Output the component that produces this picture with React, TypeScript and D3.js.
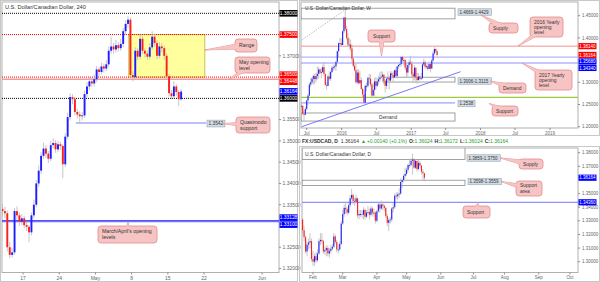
import React, { useEffect } from 'react';
import * as d3 from 'd3';

const FONT = '"Liberation Sans", Arial, sans-serif';

// ---------------- 4H panel data ----------------
const h4FirstOpen = 1.334;
const h4Close = [1.3335, 1.333, 1.325, 1.3232, 1.3238, 1.3335, 1.3325, 1.331, 1.3318, 1.3302, 1.3298, 1.3285, 1.3325, 1.335, 1.34, 1.343, 1.3465, 1.3482, 1.347, 1.3458, 1.349, 1.3495, 1.348, 1.3492, 1.3488, 1.3445, 1.351, 1.3556, 1.3603, 1.3598, 1.3568, 1.3562, 1.3558, 1.356, 1.361, 1.3628, 1.364, 1.3635, 1.3645, 1.3668, 1.3662, 1.3675, 1.367, 1.368, 1.3712, 1.3722, 1.3715, 1.3725, 1.3718, 1.3728, 1.3758, 1.3775, 1.3785, 1.3655, 1.365, 1.3712, 1.3698, 1.374, 1.3712, 1.3705, 1.3698, 1.372, 1.3745, 1.373, 1.37, 1.3722, 1.3718, 1.37, 1.3652, 1.3612, 1.3605, 1.3628, 1.3615, 1.3598, 1.3616];
const h4High = [1.3352, 1.3345, 1.3336, 1.3262, 1.3248, 1.3342, 1.3346, 1.3332, 1.3328, 1.3324, 1.331, 1.3302, 1.3332, 1.3362, 1.3408, 1.3442, 1.3474, 1.3496, 1.349, 1.3476, 1.35, 1.3506, 1.3502, 1.35, 1.3498, 1.3492, 1.3518, 1.3566, 1.3612, 1.361, 1.3604, 1.3575, 1.357, 1.3568, 1.3618, 1.3638, 1.365, 1.3648, 1.3656, 1.3676, 1.3674, 1.3684, 1.3682, 1.369, 1.3722, 1.3745, 1.373, 1.3738, 1.3732, 1.374, 1.3766, 1.3784, 1.3793, 1.379, 1.3664, 1.372, 1.3718, 1.375, 1.3746, 1.3718, 1.3712, 1.373, 1.3758, 1.3752, 1.3736, 1.3732, 1.373, 1.3724, 1.3706, 1.3658, 1.362, 1.364, 1.3634, 1.362, 1.3622];
const h4Low = [1.3322, 1.3318, 1.324, 1.3224, 1.3226, 1.3232, 1.3315, 1.33, 1.3302, 1.3294, 1.3288, 1.3262, 1.3278, 1.3318, 1.3344, 1.3392, 1.3422, 1.3458, 1.346, 1.3448, 1.3452, 1.3482, 1.3472, 1.3474, 1.3478, 1.3412, 1.3438, 1.3504, 1.3548, 1.3586, 1.356, 1.3552, 1.3542, 1.3548, 1.3554, 1.3602, 1.362, 1.3626, 1.3628, 1.3638, 1.3652, 1.3656, 1.366, 1.3664, 1.3674, 1.3705, 1.3705, 1.3708, 1.371, 1.3712, 1.372, 1.375, 1.3766, 1.3648, 1.364, 1.3646, 1.369, 1.3692, 1.3704, 1.3696, 1.369, 1.3692, 1.3714, 1.3722, 1.3692, 1.3694, 1.3708, 1.369, 1.3644, 1.3604, 1.3598, 1.36, 1.3606, 1.3582, 1.3594];
const h4CandlesPerDay = 3;
const h4TickDays = [3, 8, 13, 18, 23, 28, 36];
const h4TickLabels = ['17', '24', 'May', '8', '15', '22', 'Jun'];
const h4PriceTicks = [1.37, 1.355, 1.35, 1.345, 1.34, 1.335, 1.325, 1.32];
const h4TagValues = [1.38, 1.375, 1.365, 1.36448, 1.36164, 1.36, 1.33128, 1.331];
const h4TagKinds = ['black', 'red', 'red', 'red', 'blue', 'black', 'blue', 'blue'];
const h4RangeDays = [17.6, 28.1];
const h4RangePrices = [1.365, 1.375];
const h4QmLevel = 1.3542;
const h4QmDays = [10.3, 28.3];
const h4MarAprLevels = [1.33128, 1.331];
const h4MayOpen = [1.365, 1.36448];
const h4BlackDotted = [1.38, 1.36];
const h4RedDotted = [1.375, 1.365];

// ---------------- Weekly panel data ----------------
const wFirstOpen = 1.24;
const wClose = [1.246, 1.247, 1.229, 1.227, 1.24, 1.259, 1.27, 1.295, 1.3, 1.308, 1.314, 1.307, 1.314, 1.319, 1.329, 1.322, 1.323, 1.334, 1.319, 1.294, 1.292, 1.313, 1.308, 1.323, 1.333, 1.334, 1.336, 1.346, 1.37, 1.388, 1.388, 1.384, 1.415, 1.446, 1.42, 1.4, 1.385, 1.385, 1.376, 1.353, 1.337, 1.327, 1.3, 1.322, 1.298, 1.305, 1.285, 1.273, 1.254, 1.292, 1.292, 1.31, 1.308, 1.295, 1.27, 1.283, 1.302, 1.292, 1.302, 1.307, 1.311, 1.313, 1.317, 1.303, 1.292, 1.308, 1.31, 1.304, 1.32, 1.316, 1.311, 1.327, 1.314, 1.336, 1.339, 1.341, 1.357, 1.35, 1.35, 1.333, 1.322, 1.339, 1.345, 1.342, 1.318, 1.313, 1.333, 1.311, 1.305, 1.313, 1.308, 1.309, 1.34, 1.345, 1.335, 1.336, 1.33, 1.341, 1.331, 1.349, 1.365, 1.375, 1.37, 1.36164];
const wHigh = [1.25, 1.256, 1.248, 1.237, 1.245, 1.261, 1.274, 1.3, 1.31, 1.312, 1.318, 1.319, 1.322, 1.335, 1.335, 1.33, 1.333, 1.34, 1.346, 1.318, 1.3, 1.318, 1.325, 1.326, 1.337, 1.34, 1.34, 1.348, 1.371, 1.39, 1.4, 1.399, 1.417, 1.447, 1.469, 1.427, 1.41, 1.399, 1.396, 1.386, 1.357, 1.347, 1.342, 1.33, 1.329, 1.326, 1.311, 1.288, 1.283, 1.295, 1.3, 1.313, 1.319, 1.318, 1.298, 1.299, 1.31, 1.312, 1.31, 1.315, 1.323, 1.325, 1.324, 1.318, 1.306, 1.31, 1.325, 1.314, 1.325, 1.325, 1.324, 1.329, 1.333, 1.337, 1.341, 1.346, 1.359, 1.36, 1.356, 1.352, 1.345, 1.34, 1.351, 1.36, 1.348, 1.323, 1.339, 1.333, 1.321, 1.321, 1.315, 1.321, 1.344, 1.3535, 1.349, 1.34, 1.341, 1.347, 1.345, 1.353, 1.37, 1.3793, 1.376, 1.372];
const wLow = [1.233, 1.235, 1.227, 1.213, 1.226, 1.236, 1.248, 1.27, 1.289, 1.295, 1.295, 1.296, 1.3, 1.306, 1.308, 1.318, 1.309, 1.322, 1.314, 1.293, 1.283, 1.291, 1.305, 1.303, 1.321, 1.326, 1.328, 1.326, 1.344, 1.356, 1.385, 1.38, 1.385, 1.41, 1.415, 1.395, 1.38, 1.374, 1.37, 1.345, 1.333, 1.325, 1.297, 1.296, 1.294, 1.297, 1.283, 1.266, 1.256, 1.253, 1.28, 1.288, 1.296, 1.29, 1.266, 1.271, 1.268, 1.283, 1.289, 1.295, 1.3, 1.307, 1.301, 1.295, 1.277, 1.285, 1.302, 1.284, 1.3, 1.308, 1.301, 1.31, 1.31, 1.308, 1.33, 1.334, 1.336, 1.344, 1.338, 1.327, 1.312, 1.313, 1.333, 1.34, 1.312, 1.301, 1.305, 1.3, 1.297, 1.304, 1.304, 1.306, 1.309, 1.336, 1.329, 1.331, 1.326, 1.33, 1.322, 1.33, 1.347, 1.362, 1.366, 1.358];
const wFirstWeek = '2015-05-25';
const wTickDates = ['2015-07-01', '2016-01-01', '2016-07-01', '2017-01-01', '2017-07-01', '2018-01-01', '2018-07-01', '2019-01-01'];
const wTickLabels = ['Jul', '2016', 'Jul', '2017', 'Jul', '2018', 'Jul', '2019'];
const wPriceTicks = [1.45, 1.4, 1.3, 1.25, 1.2];
const wTagValues = [1.3814, 1.36164, 1.3568, 1.3434];
const wTagKinds = ['red', 'red', 'blue', 'blue'];
const wSupplyZone = [1.4669, 1.4429];
const wDemandZone = [1.3006, 1.3115];
const wDemandZone2 = [1.2127, 1.2309];
const wSupport = 1.2538;
const wGreenLevel = 1.266;
const wYearOpen2016 = 1.3814;
const wYearOpen2017 = 1.3434;
const wBlueLevel = 1.3568;
const wTrendDates = ['2015-06-05', '2017-09-18'];
const wTrendPrices = [1.2, 1.3239];
const wDotDates = ['2015-06-05', '2016-01-18'];
const wDotPrices = [1.3953, 1.4628];

// ---------------- Daily panel data ----------------
const dFirstOpen = 1.334;
const dClose = [1.331, 1.323, 1.318, 1.3075, 1.3125, 1.314, 1.315, 1.302, 1.3, 1.304, 1.301, 1.306, 1.315, 1.316, 1.315, 1.3075, 1.3085, 1.31, 1.306, 1.308, 1.3095, 1.311, 1.3185, 1.3145, 1.309, 1.309, 1.313, 1.328, 1.335, 1.3395, 1.3385, 1.336, 1.3415, 1.3465, 1.349, 1.3445, 1.344, 1.3465, 1.334, 1.335, 1.335, 1.3345, 1.338, 1.333, 1.336, 1.3365, 1.3345, 1.339, 1.336, 1.336, 1.33, 1.337, 1.342, 1.339, 1.342, 1.341, 1.3395, 1.3335, 1.3285, 1.3305, 1.331, 1.339, 1.34, 1.3485, 1.348, 1.3495, 1.35, 1.3585, 1.36, 1.363, 1.3645, 1.3675, 1.371, 1.371, 1.374, 1.375, 1.369, 1.374, 1.368, 1.3725, 1.3705, 1.366, 1.365, 1.36164];
const dHigh = [1.338, 1.332, 1.326, 1.319, 1.315, 1.317, 1.321, 1.317, 1.308, 1.306, 1.307, 1.309, 1.317, 1.321, 1.321, 1.316, 1.311, 1.312, 1.312, 1.31, 1.312, 1.313, 1.321, 1.32, 1.316, 1.313, 1.315, 1.33, 1.338, 1.342, 1.344, 1.34, 1.343, 1.349, 1.3535, 1.35, 1.347, 1.349, 1.347, 1.338, 1.338, 1.338, 1.34, 1.339, 1.338, 1.341, 1.339, 1.341, 1.34, 1.339, 1.337, 1.338, 1.344, 1.343, 1.345, 1.344, 1.342, 1.34, 1.335, 1.332, 1.333, 1.34, 1.343, 1.35, 1.351, 1.351, 1.354, 1.361, 1.361, 1.364, 1.369, 1.369, 1.372, 1.375, 1.376, 1.3793, 1.376, 1.375, 1.374, 1.375, 1.374, 1.371, 1.368, 1.365];
const dLow = [1.329, 1.32, 1.315, 1.306, 1.304, 1.309, 1.31, 1.3, 1.297, 1.297, 1.299, 1.3, 1.305, 1.312, 1.313, 1.306, 1.305, 1.304, 1.304, 1.303, 1.306, 1.308, 1.31, 1.313, 1.307, 1.306, 1.308, 1.312, 1.327, 1.333, 1.335, 1.334, 1.335, 1.34, 1.345, 1.342, 1.341, 1.343, 1.332, 1.331, 1.333, 1.332, 1.331, 1.331, 1.332, 1.334, 1.331, 1.333, 1.334, 1.333, 1.328, 1.329, 1.336, 1.336, 1.338, 1.338, 1.337, 1.332, 1.326, 1.3225, 1.328, 1.329, 1.336, 1.339, 1.346, 1.345, 1.347, 1.349, 1.354, 1.358, 1.361, 1.363, 1.366, 1.369, 1.37, 1.364, 1.368, 1.368, 1.366, 1.367, 1.369, 1.364, 1.36, 1.359];
const dFirstDay = '2017-01-20';
const dAxisStart = '2017-02-01';
const dTickDates = ['2017-02-01', '2017-03-01', '2017-04-03', '2017-05-01', '2017-06-01', '2017-07-03', '2017-08-01', '2017-09-01', '2017-10-02'];
const dTickLabels = ['Feb', 'Mar', 'Apr', 'May', 'Jun', 'Jul', 'Aug', 'Sep', 'Oct'];
const dPriceTicks = [1.38, 1.37, 1.35, 1.34, 1.33, 1.32, 1.31, 1.3];
const dTagValues = [1.36164, 1.3436];
const dTagKinds = ['blue', 'blue'];
const dSupplyZone = [1.3859, 1.375];
const dSupportZone = [1.3598, 1.3559];
const dSupport = 1.3436;

// ---------------- helpers ----------------
const parse = d3.timeParse('%Y-%m-%d');
const isWeekday = (d: Date) => d.getDay() !== 0 && d.getDay() !== 6;
const tagFill: Record<string, string> = { black: '#000000', red: '#ff0000', blue: '#0000ff' };

type Candle = { x: number; o: number; h: number; l: number; c: number };

function buildCandles(xs: number[], first: number, c: number[], h: number[], l: number[]): Candle[] {
  return c.map((cv, i) => ({ x: xs[i], o: i === 0 ? first : c[i - 1], h: h[i], l: l[i], c: cv }));
}

function Candles({ data, y, w }: { data: Candle[]; y: (v: number) => number; w: number }) {
  return (
    <g>
      {data.map((d, i) => (
        <line key={'w' + i} x1={d.x} x2={d.x} y1={y(d.h)} y2={y(d.l)} stroke="#b9b9b9" strokeWidth={0.8} />
      ))}
      {data.map((d, i) => {
        const up = d.c >= d.o;
        const top = y(Math.max(d.o, d.c));
        const bot = y(Math.min(d.o, d.c));
        return (
          <rect key={'b' + i} x={d.x - w / 2} y={top} width={w} height={Math.max(bot - top, 0.9)} fill={up ? '#1e1eff' : '#ff1e1e'} />
        );
      })}
    </g>
  );
}

function spread(ys: number[], gap: number, mode: 'sym' | 'down'): number[] {
  const idx = ys.map((v, i) => i).sort((a, b) => ys[a] - ys[b]);
  const out = ys.slice();
  for (let iter = 0; iter < 40; iter++) {
    let moved = false;
    for (let k = 1; k < idx.length; k++) {
      const a = idx[k - 1], b = idx[k];
      const d = out[b] - out[a];
      if (d < gap - 0.01) {
        const def = gap - d;
        if (mode === 'sym') { out[a] -= def / 2; out[b] += def / 2; } else { out[b] += def; }
        moved = true;
      }
    }
    if (!moved) break;
  }
  return out;
}

function Tags({ values, kinds, y, x, w, h, fs, gap, mode }: { values: number[]; kinds: string[]; y: (v: number) => number; x: number; w: number; h: number; fs: number; gap: number; mode: 'sym' | 'down' }) {
  const ys = spread(values.map(y), gap, mode);
  return (
    <g>
      {values.map((v, i) => (
        <g key={i}>
          <rect x={x} y={ys[i] - h / 2} width={w} height={h} fill={tagFill[kinds[i]]} />
          <text x={x + w / 2} y={ys[i] + fs * 0.36} fontSize={fs} fill="#fff" textAnchor="middle">{v.toFixed(5)}</text>
        </g>
      ))}
    </g>
  );
}

function Callout({ x, y, w, h, tx, ty, lines, fs, align = 'start', pad = 4, lh }: { x: number; y: number; w: number; h: number; tx: number; ty: number; lines: string[]; fs: number; align?: 'start' | 'middle'; pad?: number; lh?: number }) {
  const cx = x + w / 2, cy = y + h / 2;
  const dx = tx - cx, dy = ty - cy;
  const len = Math.hypot(dx, dy) || 1;
  const hw = 3.2;
  const px = (-dy / len) * hw, py = (dx / len) * hw;
  const tri = `M${cx + px},${cy + py}L${tx},${ty}L${cx - px},${cy - py}Z`;
  const fill = '#f7c4c4';
  const stroke = '#e48c8c';
  const lineH = lh ?? fs * 1.15;
  const startY = cy - ((lines.length - 1) * lineH) / 2 + fs * 0.36;
  return (
    <g>
      <path d={tri} fill={fill} stroke={stroke} strokeWidth={0.8} />
      <rect x={x} y={y} width={w} height={h} rx={3} ry={3} fill={fill} stroke={stroke} strokeWidth={0.8} />
      <path d={tri} fill={fill} />
      {lines.map((t, i) => (
        <text key={i} x={align === 'middle' ? cx : x + pad} y={startY + i * lineH} fontSize={fs} fill="#333" textAnchor={align}>{t}</text>
      ))}
    </g>
  );
}

function ZoneLabel({ x, y, text, fs }: { x: number; y: number; text: string; fs: number }) {
  const w = text.length * fs * 0.52 + 3;
  const h = fs + 2;
  return (
    <g>
      <rect x={x} y={y - h / 2} width={w} height={h} fill="#d3dde6" stroke="#9aa6b0" strokeWidth={0.6} />
      <text x={x + 1.5} y={y + fs * 0.36} fontSize={fs} fill="#333">{text}</text>
    </g>
  );
}

export default function App() {
  useEffect(() => {
    document.body.style.margin = '0';
  }, []);

  // ---------- 4H panel ----------
  const L = { x0: 2, x1: 279, y0: 2, y1: 272.5 };
  const yL = d3.scaleLinear().domain([1.32, 1.38]).range([268.5, 13.3]);
  const xL = d3.scaleLinear().domain([3, 36]).range([23, 262]);
  const h4Xs = h4Close.map((_, i) => xL(i / h4CandlesPerDay + 0.5 / h4CandlesPerDay));
  const h4Candles = buildCandles(h4Xs, h4FirstOpen, h4Close, h4High, h4Low);

  // ---------- Weekly panel ----------
  const W = { x0: 301, x1: 578, y0: 2, y1: 128 };
  const yW = d3.scaleLinear().domain([1.2, 1.45]).range([126.7, 15.7]);
  const xW = d3.scaleTime().domain([parse('2015-07-01')!, parse('2019-01-01')!]).range([306.7, 550]);
  const wDates = d3.timeWeek.offset(parse(wFirstWeek)!, 0);
  const wXs = wClose.map((_, i) => xW(d3.timeDay.offset(d3.timeWeek.offset(wDates, i), 2)));
  const wCandles = buildCandles(wXs, wFirstOpen, wClose, wHigh, wLow);

  // ---------- Daily panel ----------
  const D = { x0: 302, x1: 578, y0: 148, y1: 272.5 };
  const yD = d3.scaleLinear().domain([1.3, 1.38]).range([261.7, 152.7]);
  const axisStart = parse(dAxisStart)!;
  const tradingIndex = (d: Date) => {
    if (d >= axisStart) return d3.timeDay.range(axisStart, d).filter(isWeekday).length;
    return -d3.timeDay.range(d, axisStart).filter(isWeekday).length;
  };
  const xD = d3.scaleLinear().domain([0, tradingIndex(parse('2017-10-02')!)]).range([313, 570]);
  const dDays = d3.timeDay.range(parse(dFirstDay)!, d3.timeDay.offset(parse('2017-05-17')!, 1)).filter(isWeekday);
  const dXs = dClose.map((_, i) => xD(tradingIndex(dDays[i])));
  const dCandles = buildCandles(dXs, dFirstOpen, dClose, dHigh, dLow);

  const gray = '#8c8c8c';

  return (
    <svg width={600} height={282} style={{ position: 'absolute', left: 0, top: 0, fontFamily: FONT, background: '#fff' }}>
      <rect x={0} y={0} width={600} height={282} fill="#fff" />
      {/* ================= LEFT 4H PANEL ================= */}
      <defs>
        <clipPath id="clipL"><rect x={L.x0} y={L.y0} width={L.x1 - L.x0} height={L.y1 - L.y0} /></clipPath>
        <clipPath id="clipW"><rect x={W.x0} y={W.y0} width={W.x1 - W.x0} height={W.y1 - W.y0} /></clipPath>
        <clipPath id="clipD"><rect x={D.x0} y={D.y0} width={D.x1 - D.x0} height={D.y1 - D.y0} /></clipPath>
      </defs>
      <rect x={0.5} y={0.5} width={297} height={281} fill="none" stroke="#c8c8c8" />
      <rect x={L.x0} y={L.y0} width={L.x1 - L.x0} height={L.y1 - L.y0} fill="#fff" stroke="#b0b0b0" strokeWidth={1} />
      <g clipPath="url(#clipL)">
        <rect x={xL(h4RangeDays[0])} y={yL(h4RangePrices[1])} width={xL(h4RangeDays[1]) - xL(h4RangeDays[0])} height={yL(h4RangePrices[0]) - yL(h4RangePrices[1])} fill="#ffff9e" stroke="#c9c24f" strokeWidth={1} />
        {h4BlackDotted.map((v, i) => (
          <line key={'bd' + i} x1={L.x0} x2={L.x1} y1={yL(v)} y2={yL(v)} stroke="#000" strokeWidth={1} strokeDasharray="1,1" />
        ))}
        {h4RedDotted.map((v, i) => (
          <line key={'rd' + i} x1={L.x0} x2={L.x1} y1={yL(v)} y2={yL(v)} stroke="#ff0000" strokeWidth={1} strokeDasharray="1,1" />
        ))}
        <line x1={L.x0} x2={L.x1} y1={yL(h4MayOpen[1])} y2={yL(h4MayOpen[1])} stroke="#f49a9a" strokeWidth={1.4} />
        <line x1={xL(h4QmDays[0])} x2={xL(h4QmDays[1])} y1={yL(h4QmLevel)} y2={yL(h4QmLevel)} stroke="#a8a8ff" strokeWidth={1.5} />
        {h4MarAprLevels.map((v, i) => (
          <line key={'ma' + i} x1={L.x0} x2={L.x1} y1={yL(v)} y2={yL(v)} stroke="#5050ff" strokeWidth={1} />
        ))}
        <Candles data={h4Candles} y={yL} w={1.9} />
      </g>
      <text x={5} y={9} fontSize={5.6} fill="#333">U.S. Dollar/Canadian Dollar, 240</text>
      {/* right axis */}
      {h4PriceTicks.map((v, i) => (
        <g key={'lt' + i}>
          <line x1={L.x1} x2={L.x1 + 2} y1={yL(v)} y2={yL(v)} stroke={gray} />
          <text x={L.x1 + 3.5} y={yL(v) + 1.8} fontSize={5} fill="#666">{v.toFixed(5)}</text>
        </g>
      ))}
      <Tags values={h4TagValues} kinds={h4TagKinds} y={yL} x={L.x1 + 0.5} w={18} h={6.6} fs={4.9} gap={7} mode="sym" />
      {/* bottom axis */}
      {h4TickDays.map((d, i) => (
        <g key={'lx' + i}>
          <line x1={xL(d)} x2={xL(d)} y1={L.y1} y2={L.y1 + 2} stroke={gray} />
          <text x={xL(d)} y={L.y1 + 7} fontSize={5} fill="#666" textAnchor="middle">{h4TickLabels[i]}</text>
        </g>
      ))}
      {/* annotations */}
      <Callout x={235} y={39} w={22} h={13} tx={xL(h4RangeDays[1])} ty={50} lines={['Range']} fs={5.2} />
      <Callout x={235} y={57} w={35} h={16} tx={229} ty={yL(h4MayOpen[1])} lines={['May opening', 'level']} fs={5.2} />
      <ZoneLabel x={207} y={yL(h4QmLevel) + 0.5} text="1.3542" fs={4.8} />
      <Callout x={236} y={117} w={34} h={16} tx={223} ty={yL(h4QmLevel) + 0.5} lines={['Quasimodo', 'support']} fs={5.2} />
      <Callout x={98} y={226} w={59} h={17} tx={128} ty={yL(h4MarAprLevels[1]) + 0.5} lines={["March/April's opening", 'levels']} fs={5.2} />

      {/* ================= TOP RIGHT WEEKLY PANEL ================= */}
      <rect x={299.5} y={0.5} width={300} height={135} fill="none" stroke="#c8c8c8" />
      <rect x={W.x0} y={W.y0} width={W.x1 - W.x0} height={W.y1 - W.y0} fill="#fff" stroke="#b0b0b0" />
      <g clipPath="url(#clipW)">
        <rect x={W.x0} y={yW(wSupplyZone[0])} width={455 - W.x0} height={yW(wSupplyZone[1]) - yW(wSupplyZone[0])} fill="none" stroke="#8a8a8a" strokeWidth={0.8} />
        <rect x={383} y={yW(wDemandZone[1])} width={455 - 383} height={yW(wDemandZone[0]) - yW(wDemandZone[1])} fill="none" stroke="#8a8a8a" strokeWidth={0.8} />
        <rect x={W.x0} y={yW(wDemandZone2[1])} width={455 - W.x0} height={yW(wDemandZone2[0]) - yW(wDemandZone2[1])} fill="none" stroke="#8a8a8a" strokeWidth={0.8} />
        <line x1={W.x0} x2={W.x1} y1={yW(wYearOpen2016)} y2={yW(wYearOpen2016)} stroke="#f09090" strokeWidth={1} />
        <line x1={W.x0} x2={W.x1} y1={yW(wBlueLevel)} y2={yW(wBlueLevel)} stroke="#b4b4ff" strokeWidth={1.4} />
        <line x1={W.x0} x2={W.x1} y1={yW(wYearOpen2017)} y2={yW(wYearOpen2017)} stroke="#9090ff" strokeWidth={1} />
        <line x1={W.x0} x2={W.x1} y1={yW(wGreenLevel)} y2={yW(wGreenLevel)} stroke="#9ccc3c" strokeWidth={1.3} />
        <line x1={W.x0} x2={455} y1={yW(wSupport)} y2={yW(wSupport)} stroke="#a0a0ff" strokeWidth={1.2} />
        <line x1={xW(parse(wTrendDates[0])!)} x2={xW(parse(wTrendDates[1])!)} y1={yW(wTrendPrices[0])} y2={yW(wTrendPrices[1])} stroke="#6a6aff" strokeWidth={0.9} />
        <line x1={xW(parse(wDotDates[0])!)} x2={xW(parse(wDotDates[1])!)} y1={yW(wDotPrices[0])} y2={yW(wDotPrices[1])} stroke="#999" strokeWidth={0.8} strokeDasharray="1,1.2" />
        <Candles data={wCandles} y={yW} w={1.1} />
        <text x={388} y={yW((wDemandZone2[0] + wDemandZone2[1]) / 2) + 1.7} fontSize={4.8} fill="#333" textAnchor="middle">Demand</text>
      </g>
      <text x={305} y={10} fontSize={4.8} fill="#333">U.S. Dollar/Canadian Dollar, W</text>
      {wPriceTicks.map((v, i) => (
        <g key={'wt' + i}>
          <line x1={W.x1} x2={W.x1 + 2} y1={yW(v)} y2={yW(v)} stroke={gray} />
          <text x={W.x1 + 4} y={yW(v) + 1.6} fontSize={4.5} fill="#666">{v.toFixed(5)}</text>
        </g>
      ))}
      <Tags values={wTagValues} kinds={wTagKinds} y={yW} x={W.x1 + 0.5} w={18} h={6.2} fs={4.5} gap={6.5} mode="down" />
      {wTickDates.map((d, i) => (
        <g key={'wx' + i}>
          <line x1={xW(parse(d)!)} x2={xW(parse(d)!)} y1={W.y1} y2={W.y1 + 2} stroke={gray} />
          <text x={xW(parse(d)!)} y={W.y1 + 6.5} fontSize={4.5} fill="#666" textAnchor="middle">{wTickLabels[i]}</text>
        </g>
      ))}
      <ZoneLabel x={458} y={12} text="1.4669-1.4429" fs={4.5} />
      <ZoneLabel x={458} y={81} text="1.3006-1.3115" fs={4.5} />
      <ZoneLabel x={458} y={103.5} text="1.2538" fs={4.5} />
      <Callout x={368} y={30} w={27} h={12} tx={381.5} ty={yW(wBlueLevel) - 1} lines={['Support']} fs={4.9} align="middle" />
      <Callout x={489} y={23} w={29} h={10} tx={481} ty={15} lines={['Supply']} fs={4.9} />
      <Callout x={530} y={17} w={33} h={20} tx={518} ty={yW(wYearOpen2016)} lines={['2016 Yearly', 'opening', 'level']} fs={4.9} lh={5} />
      <Callout x={535} y={70} w={37} h={20} tx={522} ty={yW(wYearOpen2017)} lines={['2017 Yearly', 'opening', 'level']} fs={4.9} lh={5} />
      <Callout x={499} y={83} w={27} h={10} tx={490} ty={81} lines={['Demand']} fs={4.9} />
      <Callout x={492} y={106} w={26} h={10} tx={489} ty={103.5} lines={['Support']} fs={4.9} />

      {/* ================= HEADER ================= */}
      <text x={302} y={143} fontSize={5} fill="#333">
        <tspan fontWeight="bold">FX:USDCAD, D</tspan>
        <tspan dx={3}>1.36164</tspan>
        <tspan dx={2} fill="#2ca02c">▲</tspan>
        <tspan dx={1} fill="#2ca02c">+0.00140 (+0.1%)</tspan>
        <tspan dx={2} fontWeight="bold">O:</tspan><tspan fill="#2ca02c">1.36024</tspan>
        <tspan dx={2} fontWeight="bold">H:</tspan><tspan fill="#2ca02c">1.36172</tspan>
        <tspan dx={2} fontWeight="bold">L:</tspan><tspan fill="#2ca02c">1.36024</tspan>
        <tspan dx={2} fontWeight="bold">C:</tspan><tspan fill="#2ca02c">1.36164</tspan>
      </text>

      {/* ================= BOTTOM RIGHT DAILY PANEL ================= */}
      <rect x={299.5} y={146.5} width={300} height={135} fill="none" stroke="#c8c8c8" />
      <rect x={D.x0} y={D.y0} width={D.x1 - D.x0} height={D.y1 - D.y0} fill="#fff" stroke="#b0b0b0" />
      <g clipPath="url(#clipD)">
        <rect x={D.x0} y={yD(dSupplyZone[0])} width={465 - D.x0} height={yD(dSupplyZone[1]) - yD(dSupplyZone[0])} fill="none" stroke="#8a8a8a" strokeWidth={0.8} />
        <rect x={D.x0} y={yD(dSupportZone[0])} width={465 - D.x0} height={yD(dSupportZone[1]) - yD(dSupportZone[0])} fill="none" stroke="#8a8a8a" strokeWidth={0.8} />
        <line x1={D.x0} x2={D.x1} y1={yD(dSupport)} y2={yD(dSupport)} stroke="#9090ff" strokeWidth={1.2} />
        <Candles data={dCandles} y={yD} w={1.1} />
      </g>
      <text x={305} y={156} fontSize={4.9} fill="#333">U.S. Dollar/Canadian Dollar, D</text>
      {dPriceTicks.map((v, i) => (
        <g key={'dt' + i}>
          <line x1={D.x1} x2={D.x1 + 2} y1={yD(v)} y2={yD(v)} stroke={gray} />
          <text x={D.x1 + 4} y={yD(v) + 1.6} fontSize={4.5} fill="#666">{v.toFixed(5)}</text>
        </g>
      ))}
      <Tags values={dTagValues} kinds={dTagKinds} y={yD} x={D.x1 + 0.5} w={18} h={6.2} fs={4.5} gap={6.5} mode="down" />
      {dTickDates.map((d, i) => {
        const xx = xD(tradingIndex(parse(d)!));
        return (
          <g key={'dx' + i}>
            <line x1={xx} x2={xx} y1={D.y1} y2={D.y1 + 2} stroke={gray} />
            <text x={xx} y={D.y1 + 6.5} fontSize={4.5} fill="#666" textAnchor="middle">{dTickLabels[i]}</text>
          </g>
        );
      })}
      <ZoneLabel x={467} y={158} text="1.3859-1.3750" fs={4.5} />
      <ZoneLabel x={468} y={181.5} text="1.3598-1.3559" fs={4.5} />
      <Callout x={519} y={159} w={24} h={10} tx={500} ty={158} lines={['Supply']} fs={4.9} />
      <Callout x={516} y={181} w={26} h={15} tx={501} ty={181.5} lines={['Support', 'area']} fs={4.9} />
      <Callout x={463} y={206} w={27} h={12} tx={478} ty={yD(dSupport)} lines={['Support']} fs={4.9} />
    </svg>
  );
}
